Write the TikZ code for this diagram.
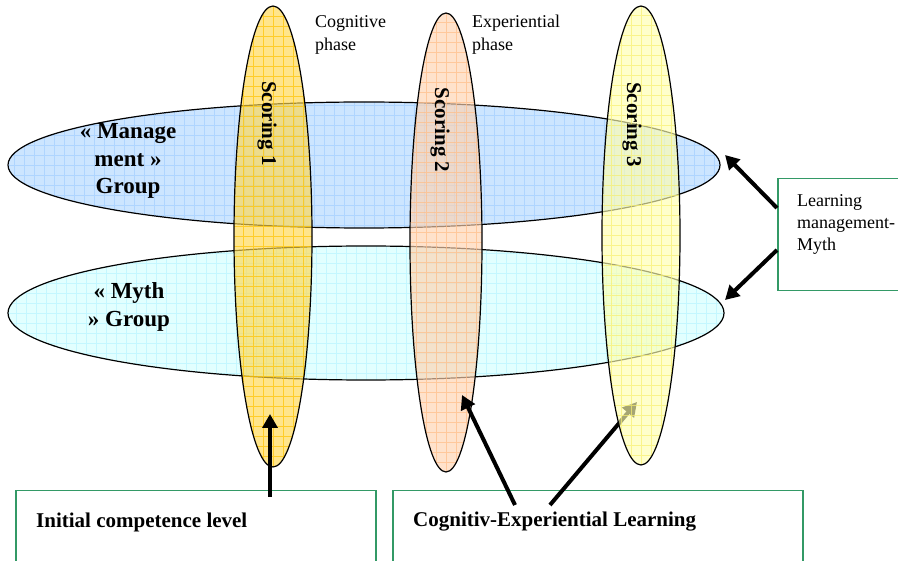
\documentclass[tikz,border=0pt]{standalone}
\usepackage{fontspec}
\setmainfont{Liberation Serif}
\usetikzlibrary{arrows.meta,shapes.geometric}
\definecolor{mgfill}{HTML}{CCE5FF}
\definecolor{mggrid}{HTML}{AFD5FF}
\definecolor{myfill}{HTML}{E2FFFF}
\definecolor{mygrid}{HTML}{C4F7FF}
\definecolor{sonefill}{HTML}{FFD84D}
\definecolor{sonegrid}{HTML}{FFC400}
\definecolor{stwofill}{HTML}{FFD3B0}
\definecolor{stwogrid}{HTML}{FFBD88}
\definecolor{sthreefill}{HTML}{FFFFB0}
\definecolor{sthreegrid}{HTML}{F8F070}
\definecolor{boxgreen}{HTML}{339966}
\begin{document}
\begin{tikzpicture}[x=1pt,y=-1pt,
  gridfill/.style={path picture={\draw[#1,line width=0.45pt] (path picture bounding box.south west) grid[step=10pt] (path picture bounding box.north east);}},
  hell/.style={ellipse, draw=black, line width=1.2pt, inner sep=0pt},
  vell/.style={ellipse, draw=black, line width=1.2pt, inner sep=0pt, fill opacity=0.65,
    path picture={\draw[#1,line width=0.45pt,draw opacity=0.7] (path picture bounding box.south west) grid[step=10pt] (path picture bounding box.north east);}},
  grouptext/.style={font=\fontsize{23}{27.5}\selectfont\bfseries, align=center, inner sep=0pt},
  scoretext/.style={font=\fontsize{21}{24}\selectfont\bfseries, rotate=-90, inner sep=0pt},
  phasetext/.style={font=\fontsize{18}{23}\selectfont, align=left, anchor=north west, inner sep=0pt},
  greenbox/.style={draw=boxgreen, line width=1.5pt, anchor=north west, inner sep=0pt},
  boxtext/.style={font=\fontsize{21}{24}\selectfont\bfseries, anchor=west, inner sep=0pt},
  arr/.style={line width=4pt, -{Triangle[length=14pt,width=15pt]}}
]
\useasboundingbox (0,0) rectangle (898,561);
\clip (0,0) rectangle (898,561);
\fill[white] (0,0) rectangle (898,561);

% horizontal ellipses
\node[hell, fill=mgfill, gridfill=mggrid, minimum width=712pt, minimum height=126pt] (mg) at (364,165) {};
\node[hell, fill=myfill, gridfill=mygrid, minimum width=716pt, minimum height=134pt] (my) at (366,313) {};

% boxes
\node[greenbox, minimum width=140pt, minimum height=112pt] (lbox) at (777,178) {};
\node[greenbox, minimum width=360pt, minimum height=90pt] (ibox) at (15,490) {};
\node[greenbox, minimum width=410pt, minimum height=90pt] (cbox) at (392,490) {};

% arrow under Scoring 3
\coordinate (a3s) at (550,505);
\coordinate (a3t) at (637,402);
\draw[arr] (a3s) -- (a3t);

% vertical ellipses
\node[vell=sonegrid, fill=sonefill, minimum width=78pt, minimum height=461pt] (s1) at (273,236.5) {};
\node[vell=stwogrid, fill=stwofill, minimum width=72pt, minimum height=459pt] (s2) at (446,242.5) {};
\node[vell=sthreegrid, fill=sthreefill, minimum width=78pt, minimum height=459pt] (s3) at (641,235.5) {};

% texts
\node[grouptext] (mgt) at (128,161) {« Manage\\ment »\\Group};
\node[grouptext] (myt) at (129,307) {« Myth\\» Group};
\node[scoretext] (s1t) at (267,123.5) {Scoring 1};
\node[scoretext] (s2t) at (440,130) {Scoring 2};
\node[scoretext] (s3t) at (632,124.5) {Scoring 3};
\node[phasetext] (cp) at (315,15) {Cognitive\\phase};
\node[phasetext] (ep) at (472,15) {Experiential\\phase};
\node[phasetext, font=\fontsize{18}{22}\selectfont] (lt) at (797,194) {Learning\\management-\\Myth};
\node[boxtext] (it) at (36,522) {Initial competence level};
\node[boxtext] (ct) at (413,522) {Cognitiv-Experiential Learning};

% arrows
\coordinate (a1s) at (270,497);
\coordinate (a1t) at (270,414);
\draw[arr] (a1s) -- (a1t);
\coordinate (a2s) at (515,505);
\coordinate (a2t) at (462,395);
\draw[arr] (a2s) -- (a2t);
\coordinate (a4s) at (777,208);
\coordinate (a4t) at (725,155);
\draw[arr] (a4s) -- (a4t);
\coordinate (a5s) at (777,250);
\coordinate (a5t) at (725,300);
\draw[arr] (a5s) -- (a5t);
\end{tikzpicture}
\end{document}
